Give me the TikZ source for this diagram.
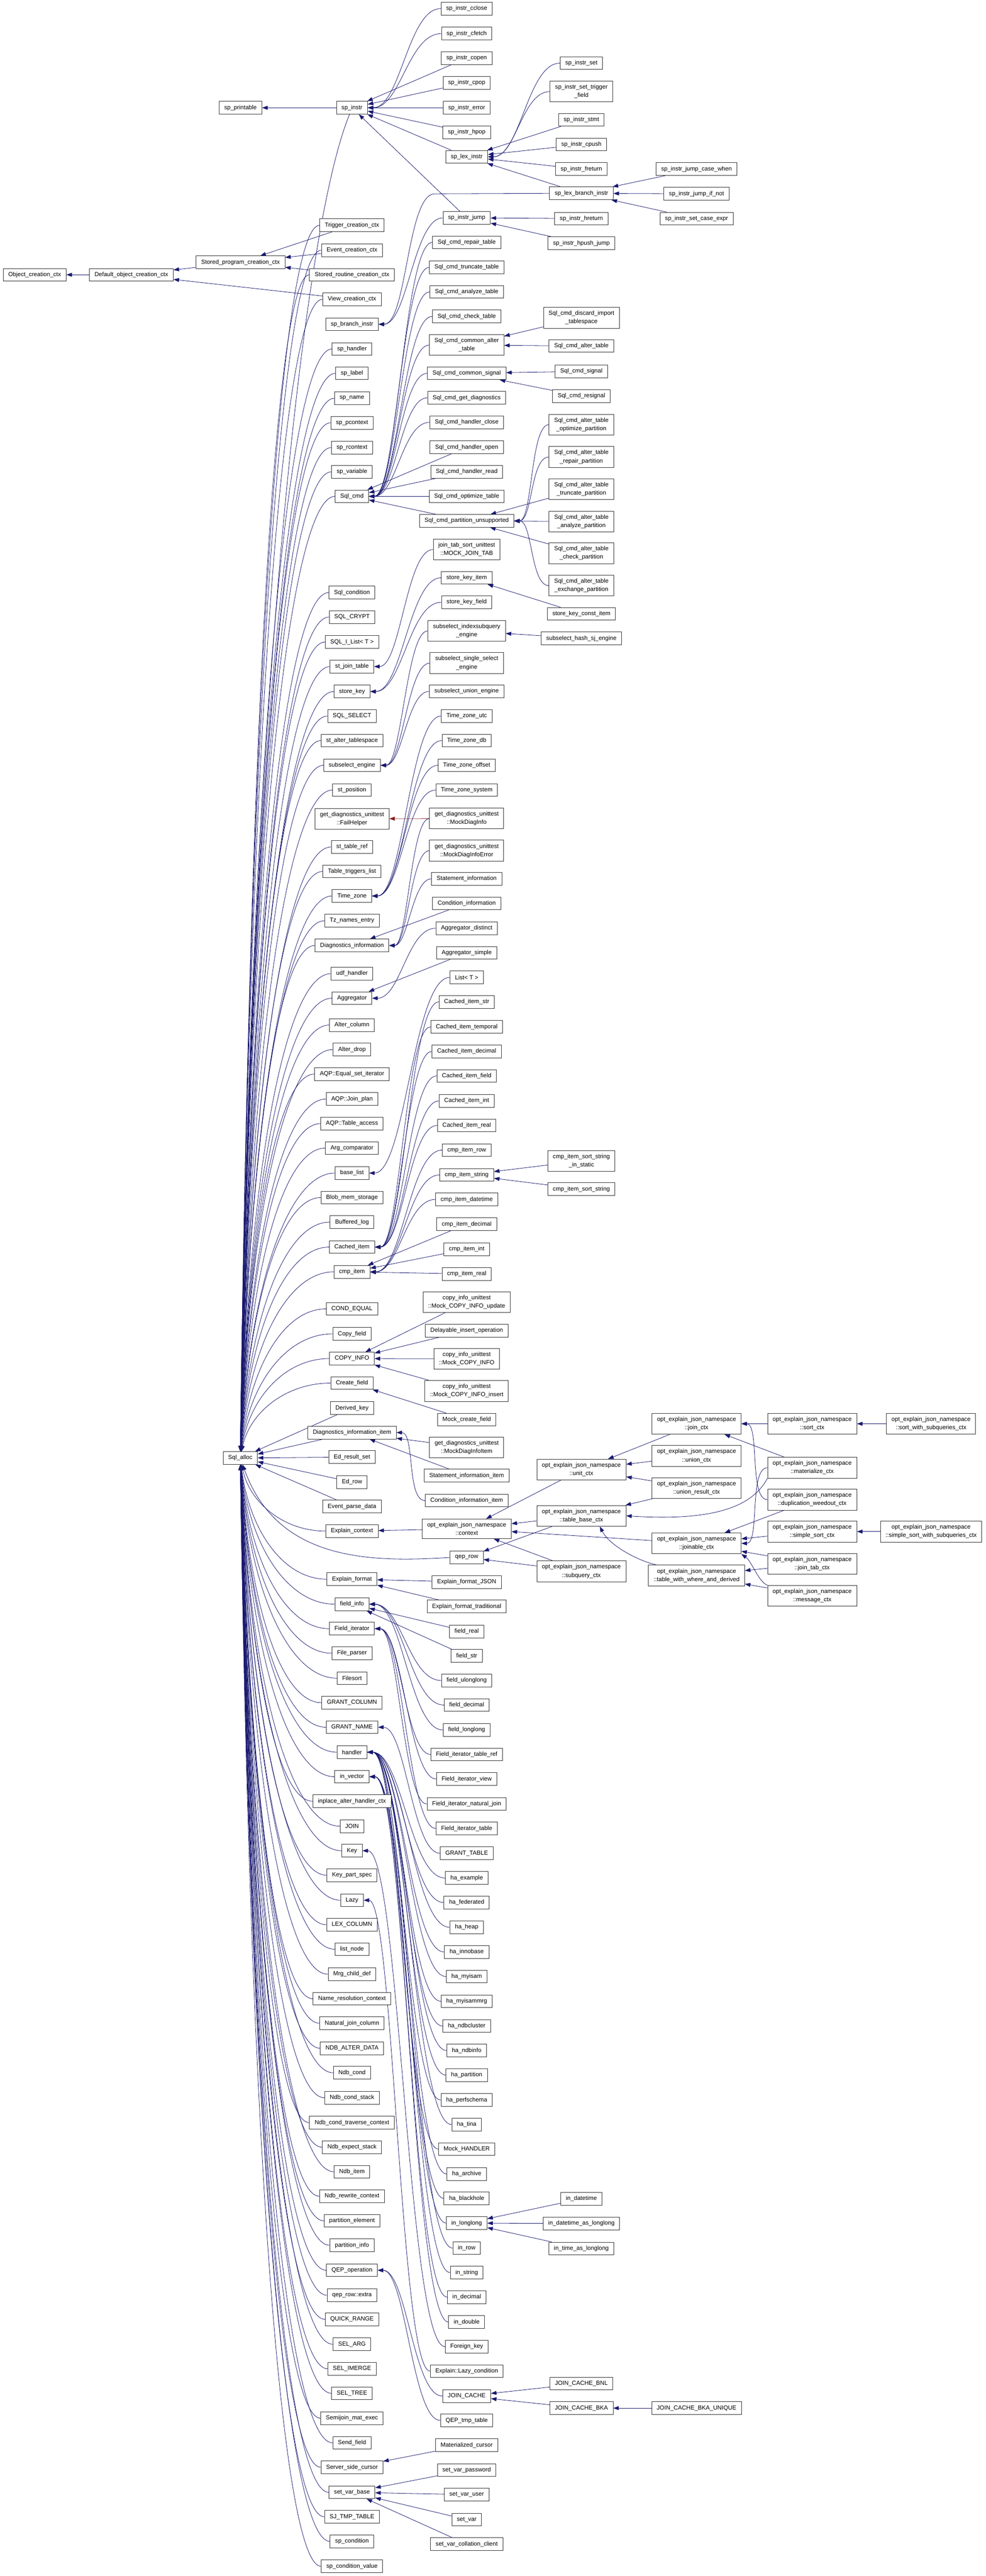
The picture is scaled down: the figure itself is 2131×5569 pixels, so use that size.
\documentclass[tikz,border=0pt]{standalone}
\usepackage{fontspec}
\setmainfont{Liberation Sans}
\usetikzlibrary{arrows.meta,backgrounds}
\definecolor{edgeblue}{RGB}{25,25,112}
\definecolor{privred}{RGB}{139,26,26}
\tikzset{
  box/.style={draw=black!80, line width=1pt, fill=white, align=center,
    font=\fontsize{12.9pt}{18pt}\selectfont, minimum height=27.5pt,
    inner xsep=11pt, inner ysep=7.5pt},
  edge/.style={draw=edgeblue, line width=0.9pt,
    arrows={Triangle[length=12pt,width=8.5pt]-}},
  privedge/.style={edge, draw=privred}
}
% parent #2, child #3
\newcommand\inh[3][edge]{%
  \path (#2.east); \pgfgetlastxy{\pex}{\pey}%
  \path (#3.west); \pgfgetlastxy{\cwx}{\cwy}%
  \pgfmathtruncatemacro\farr{abs((\cwy)-(\pey))>130}%
  \ifnum\farr=1
    \pgfmathsetmacro\kk{max(40,0.45*((\cwx)-(\pex)))}%
    \draw[#1] (#2.east) .. controls +(\kk pt,0pt) and +(-\kk pt,0pt) .. (#3.west);%
  \else
    \draw[#1] (#2) -- (#3);%
  \fi}
% child #1 of Sql_alloc
\newcommand\saedge[1]{%
  \path (sa); \pgfgetlastxy{\sax}{\say}%
  \path (#1.west); \pgfgetlastxy{\nwx}{\nwy}%
  \pgfmathsetmacro\dyy{(\nwy)-(\say)}%
  \pgfmathtruncatemacro\farr{abs(\dyy)>150}%
  \ifnum\farr=1
    \pgfmathsetmacro\cax{\sax+20}%
    \pgfmathsetmacro\cay{\say+0.6*\dyy}%
    \pgfmathsetmacro\cbx{\nwx-0.5*((\nwx)-(\sax))}%
    \draw[edge] (sa) .. controls (\cax pt,\cay pt) and (\cbx pt,\nwy) .. (#1.west);%
  \else
    \draw[edge] (sa) -- (#1);%
  \fi}

\begin{document}
\begin{tikzpicture}[x=1pt,y=-1pt]
\useasboundingbox (0,0) rectangle (2131,5569);

\node[box] (oc) at (75,594) {Object\_creation\_ctx};
\node[box] (doc) at (284,594) {Default\_object\_creation\_ctx};
\node[box] (spp) at (520,233) {sp\_printable};
\node[box] (spc) at (520,567) {Stored\_program\_creation\_ctx};
\node[box] (sa) at (519.5,3152) {Sql\_alloc};

\foreach \nm/\yy/\lbl in {
 spinstr/233/sp\_instr, trig/487/Trigger\_creation\_ctx, event/541/Event\_creation\_ctx,
 sroutine/594/Stored\_routine\_creation\_ctx, view/647/View\_creation\_ctx,
 spbranch/701/sp\_branch\_instr, sphandler/754.5/sp\_handler, splabel/807/sp\_label,
 spname/861/sp\_name, sppctx/914/sp\_pcontext, sprctx/967.5/sp\_rcontext,
 spvar/1020/sp\_variable, sqlcmd/1073/Sql\_cmd, sqlcond/1281/Sql\_condition,
 sqlcrypt/1334/SQL\_CRYPT, sqlilist/1388/SQL\_I\_List< T >, stjoin/1441/st\_join\_table,
 storekey/1495/store\_key, sqlsel/1548/SQL\_SELECT, stalter/1601/st\_alter\_tablespace,
 subeng/1654.5/subselect\_engine, stpos/1708/st\_position,
 failhelper/1770/{get\_diagnostics\_unittest\\::FailHelper},
 sttref/1831/st\_table\_ref, ttlist/1884/Table\_triggers\_list, tz/1937/Time\_zone,
 tznames/1990.5/Tz\_names\_entry, diaginfo/2044/Diagnostics\_information,
 udf/2105/udf\_handler, aggr/2158/Aggregator, altcol/2216/Alter\_column,
 altdrop/2269/Alter\_drop, aqpeq/2322/AQP::Equal\_set\_iterator, aqpjoin/2376/AQP::Join\_plan,
 aqptab/2429/AQP::Table\_access, argcmp/2482/Arg\_comparator, baselist/2536/base\_list,
 blob/2589/Blob\_mem\_storage, buflog/2642/Buffered\_log, cached/2696/Cached\_item,
 cmpitem/2749.6/cmp\_item, condeq/2829.6/COND\_EQUAL, copyfield/2883.6/Copy\_field,
 copyinfo/2937/COPY\_INFO, createfield/2990/Create\_field, derivedkey/3044/Derived\_key,
 diagitem/3097/Diagnostics\_information\_item, edrs/3150/Ed\_result\_set, edrow/3204/Ed\_row,
 eventpd/3257/Event\_parse\_data, explctx/3310/Explain\_context, explfmt/3414/Explain\_format,
 fieldinfo/3468/field\_info, fielditer/3521/Field\_iterator, fileparser/3574/File\_parser,
 filesort/3628/Filesort, grantcol/3681/GRANT\_COLUMN, grantname/3734/GRANT\_NAME,
 handler/3788/handler, invector/3841/in\_vector, inplace/3894/inplace\_alter\_handler\_ctx,
 join/3948/JOIN, key/4001/Key, keypart/4054/Key\_part\_spec, lazy/4108/Lazy,
 lexcol/4161/LEX\_COLUMN, listnode/4214/list\_node, mrg/4268/Mrg\_child\_def,
 nrc/4321/Name\_resolution\_context, njc/4374/Natural\_join\_column,
 ndbalter/4428/NDB\_ALTER\_DATA, ndbcond/4481/Ndb\_cond, ndbcs/4535/Ndb\_cond\_stack,
 ndbctc/4589/Ndb\_cond\_traverse\_context, ndbes/4642/Ndb\_expect\_stack, ndbitem/4695/Ndb\_item,
 ndbrc/4748/Ndb\_rewrite\_context, partel/4801/partition\_element, partinfo/4854/partition\_info,
 qepop/4908/QEP\_operation, qeprowx/4962/qep\_row::extra, qrange/5014/QUICK\_RANGE,
 selarg/5068/SEL\_ARG, selimerge/5121/SEL\_IMERGE, seltree/5174/SEL\_TREE,
 sjmat/5228/Semijoin\_mat\_exec, sendfield/5281/Send\_field, sscursor/5334/Server\_side\_cursor,
 setvarbase/5388/set\_var\_base, sjtmp/5441/SJ\_TMP\_TABLE, spcond/5494/sp\_condition,
 spcondval/5548/sp\_condition\_value}
  {\node[box] (\nm) at (761,\yy) {\lbl};}

\foreach \nm/\yy/\lbl in {
 cclose/18.5/sp\_instr\_cclose, cfetch/72.7/sp\_instr\_cfetch, copen/125.6/sp\_instr\_copen,
 cpop/179/sp\_instr\_cpop, sperror/233/sp\_instr\_error, hpop/286/sp\_instr\_hpop,
 lexinstr/339/sp\_lex\_instr, spjump/471/sp\_instr\_jump, cmdrepair/524/Sql\_cmd\_repair\_table,
 cmdtrunc/578/Sql\_cmd\_truncate\_table, cmdanalyze/631/Sql\_cmd\_analyze\_table,
 cmdcheck/684/Sql\_cmd\_check\_table, cmdalter/746/{Sql\_cmd\_common\_alter\\\_table},
 cmdsignal/807/Sql\_cmd\_common\_signal, cmdgetdiag/860/Sql\_cmd\_get\_diagnostics,
 cmdhclose/913/Sql\_cmd\_handler\_close, cmdhopen/967/Sql\_cmd\_handler\_open,
 cmdhread/1020/Sql\_cmd\_handler\_read, cmdopt/1073/Sql\_cmd\_optimize\_table,
 cmdpart/1126/Sql\_cmd\_partition\_unsupported,
 mockjt/1188/{join\_tab\_sort\_unittest\\::MOCK\_JOIN\_TAB},
 skitem/1249/store\_key\_item, skfield/1302/store\_key\_field,
 subidx/1364/{subselect\_indexsubquery\\\_engine},
 subsingle/1433.5/{subselect\_single\_select\\\_engine},
 subunion/1494.6/subselect\_union\_engine, tzutc/1548/Time\_zone\_utc, tzdb/1601/Time\_zone\_db,
 tzoff/1654.5/Time\_zone\_offset, tzsys/1708/Time\_zone\_system,
 mockdiag/1769.5/{get\_diagnostics\_unittest\\::MockDiagInfo},
 mockdiagerr/1839/{get\_diagnostics\_unittest\\::MockDiagInfoError},
 stmtinfo/1900/Statement\_information, condinfo/1953/Condition\_information,
 aggrdist/2006.7/Aggregator\_distinct, aggrsimple/2060/Aggregator\_simple, listt/2113/List< T >,
 cistr/2166/Cached\_item\_str, citemp/2220/Cached\_item\_temporal, cidec/2273/Cached\_item\_decimal,
 cifield/2326/Cached\_item\_field, ciint/2380/Cached\_item\_int, cireal/2433/Cached\_item\_real,
 cmprow/2486.5/cmp\_item\_row, cmpstr/2540/cmp\_item\_string, cmpdt/2593/cmp\_item\_datetime,
 cmpdec/2646.5/cmp\_item\_decimal, cmpint/2700.5/cmp\_item\_int, cmpreal/2754/cmp\_item\_real,
 mockciupd/2815/{copy\_info\_unittest\\::Mock\_COPY\_INFO\_update},
 delayins/2876.6/Delayable\_insert\_operation,
 mockci/2937.6/{copy\_info\_unittest\\::Mock\_COPY\_INFO},
 mockciins/3007/{copy\_info\_unittest\\::Mock\_COPY\_INFO\_insert},
 mockcf/3069/Mock\_create\_field,
 mockdiagitem/3129/{get\_diagnostics\_unittest\\::MockDiagInfoItem},
 stmtitem/3190/Statement\_information\_item, conditem/3244/Condition\_information\_item,
 jctx/3305/{opt\_explain\_json\_namespace\\::context}, qeprow/3367/qep\_row,
 fmtjson/3420/Explain\_format\_JSON, fmttrad/3473/Explain\_format\_traditional,
 freal/3527/field\_real, fstr/3580/field\_str, fulong/3633/field\_ulonglong,
 fdec/3686/field\_decimal, flong/3740/field\_longlong, fitref/3793/Field\_iterator\_table\_ref,
 fitview/3846/Field\_iterator\_view, fitnat/3900/Field\_iterator\_natural\_join,
 fittab/3953/Field\_iterator\_table, granttab/4006.5/GRANT\_TABLE, haexample/4060/ha\_example,
 hafed/4113/ha\_federated, haheap/4166.5/ha\_heap, hainno/4220/ha\_innobase,
 hamyisam/4273/ha\_myisam, hamrg/4326.5/ha\_myisammrg, handb/4380/ha\_ndbcluster,
 handbinfo/4433/ha\_ndbinfo, hapart/4486/ha\_partition, haperf/4540/ha\_perfschema,
 hatina/4593/ha\_tina, mockh/4646/Mock\_HANDLER, haarch/4700/ha\_archive,
 hablack/4752.6/ha\_blackhole, inll/4806/in\_longlong, inrow/4860/in\_row,
 instring/4913/in\_string, indec/4966/in\_decimal, indbl/5020/in\_double,
 fkey/5073/Foreign\_key, lazycond/5126/Explain::Lazy\_condition, jcache/5180/JOIN\_CACHE,
 qeptmp/5232.6/QEP\_tmp\_table, matcur/5286/Materialized\_cursor,
 svpass/5340/set\_var\_password, svuser/5393/set\_var\_user, setvar/5447/set\_var,
 svcoll/5500/set\_var\_collation\_client}
  {\node[box] (\nm) at (1009,\yy) {\lbl};}

\foreach \nm/\yy/\lbl in {
 iset/136.5/sp\_instr\_set, isettf/198/{sp\_instr\_set\_trigger\\\_field},
 istmt/259/sp\_instr\_stmt, icpush/312.5/sp\_instr\_cpush, ifreturn/365.5/sp\_instr\_freturn,
 lexbranch/418/sp\_lex\_branch\_instr, ihreturn/472.6/sp\_instr\_hreturn,
 ihpush/526/sp\_instr\_hpush\_jump,
 cmddiscard/687/{Sql\_cmd\_discard\_import\\\_tablespace},
 cmdaltertab/748/Sql\_cmd\_alter\_table, cmdsig/803/Sql\_cmd\_signal,
 cmdresig/856.5/Sql\_cmd\_resignal,
 apopt/918/{Sql\_cmd\_alter\_table\\\_optimize\_partition},
 aprep/988/{Sql\_cmd\_alter\_table\\\_repair\_partition},
 aptrunc/1057.5/{Sql\_cmd\_alter\_table\\\_truncate\_partition},
 apanal/1127.7/{Sql\_cmd\_alter\_table\\\_analyze\_partition},
 apcheck/1196/{Sql\_cmd\_alter\_table\\\_check\_partition},
 apexch/1266/{Sql\_cmd\_alter\_table\\\_exchange\_partition},
 skconst/1327/store\_key\_const\_item, subhash/1380/subselect\_hash\_sj\_engine,
 cmpsortst/2509.7/{cmp\_item\_sort\_string\\\_in\_static},
 cmpsort/2570.7/cmp\_item\_sort\_string,
 unitctx/3177/{opt\_explain\_json\_namespace\\::unit\_ctx},
 tbase/3277/{opt\_explain\_json\_namespace\\::table\_base\_ctx},
 subqctx/3397/{opt\_explain\_json\_namespace\\::subquery\_ctx},
 indt/4753.5/in\_datetime, indtll/4807/in\_datetime\_as\_longlong,
 intimell/4861/in\_time\_as\_longlong, jcbnl/5153/JOIN\_CACHE\_BNL, jcbka/5206/JOIN\_CACHE\_BKA}
  {\node[box] (\nm) at (1257,\yy) {\lbl};}

\foreach \nm/\yy/\lbl in {
 jcase/365.5/sp\_instr\_jump\_case\_when, jifnot/419/sp\_instr\_jump\_if\_not,
 setcase/472.6/sp\_instr\_set\_case\_expr,
 joinctx/3078/{opt\_explain\_json\_namespace\\::join\_ctx},
 unionctx/3147.5/{opt\_explain\_json\_namespace\\::union\_ctx},
 unionres/3217/{opt\_explain\_json\_namespace\\::union\_result\_ctx},
 joinable/3336.6/{opt\_explain\_json\_namespace\\::joinable\_ctx},
 twwad/3406/{opt\_explain\_json\_namespace\\::table\_with\_where\_and\_derived},
 jcbkau/5206/JOIN\_CACHE\_BKA\_UNIQUE}
  {\node[box] (\nm) at (1506,\yy) {\lbl};}

\foreach \nm/\yy/\lbl in {
 sortctx/3078/{opt\_explain\_json\_namespace\\::sort\_ctx},
 matctx/3173/{opt\_explain\_json\_namespace\\::materialize\_ctx},
 dwctx/3242/{opt\_explain\_json\_namespace\\::duplication\_weedout\_ctx},
 ssortctx/3311/{opt\_explain\_json\_namespace\\::simple\_sort\_ctx},
 jtabctx/3380.6/{opt\_explain\_json\_namespace\\::join\_tab\_ctx},
 msgctx/3450/{opt\_explain\_json\_namespace\\::message\_ctx}}
  {\node[box] (\nm) at (1756,\yy) {\lbl};}

\node[box] (sortsub) at (2013,3078) {opt\_explain\_json\_namespace\\::sort\_with\_subqueries\_ctx};
\node[box] (ssortsub) at (2013,3311) {opt\_explain\_json\_namespace\\::simple\_sort\_with\_subqueries\_ctx};

\begin{scope}[on background layer]
\fill[white] (0,0) rectangle (2131,5569);

\inh{oc}{doc}
\inh{doc}{spc}
\inh{doc}{view}
\foreach \c in {trig,event,sroutine} {\inh{spc}{\c}}
\inh{spp}{spinstr}
\foreach \c in {cclose,cfetch,copen,cpop,sperror,hpop,lexinstr} {\inh{spinstr}{\c}}
\draw[edge] (spinstr) -- (spjump);
\foreach \c in {iset,isettf,istmt,icpush,ifreturn,lexbranch} {\inh{lexinstr}{\c}}
\foreach \c in {ihreturn,ihpush} {\inh{spjump}{\c}}
\foreach \c in {jcase,jifnot,setcase} {\inh{lexbranch}{\c}}
\coordinate (bend) at (940,419);
\draw[edge] (spbranch.east) .. controls (880,701) and (880,419) .. (bend) -- (lexbranch.west);
\inh{spbranch}{spjump}
\foreach \c in {cmdrepair,cmdtrunc,cmdanalyze,cmdcheck,cmdalter,cmdsignal,cmdgetdiag,
  cmdhclose,cmdhopen,cmdhread,cmdopt,cmdpart} {\inh{sqlcmd}{\c}}
\foreach \c in {cmddiscard,cmdaltertab} {\inh{cmdalter}{\c}}
\foreach \c in {cmdsig,cmdresig} {\inh{cmdsignal}{\c}}
\foreach \c in {apopt,aprep,aptrunc,apanal,apcheck,apexch} {\inh{cmdpart}{\c}}
\inh{stjoin}{mockjt}
\foreach \c in {skitem,skfield} {\inh{storekey}{\c}}
\inh{skitem}{skconst}
\foreach \c in {subidx,subsingle,subunion} {\inh{subeng}{\c}}
\inh{subidx}{subhash}
\foreach \c in {tzutc,tzdb,tzoff,tzsys} {\inh{tz}{\c}}
\draw[privedge] (failhelper) -- (mockdiag);
\foreach \c in {mockdiag,mockdiagerr,stmtinfo,condinfo} {\inh{diaginfo}{\c}}
\foreach \c in {aggrdist,aggrsimple} {\inh{aggr}{\c}}
\inh{baselist}{listt}
\foreach \c in {cistr,citemp,cidec,cifield,ciint,cireal} {\inh{cached}{\c}}
\foreach \c in {cmprow,cmpstr,cmpdt,cmpdec,cmpint,cmpreal} {\inh{cmpitem}{\c}}
\foreach \c in {cmpsortst,cmpsort} {\inh{cmpstr}{\c}}
\foreach \c in {mockciupd,delayins,mockci,mockciins} {\inh{copyinfo}{\c}}
\inh{createfield}{mockcf}
\foreach \c in {mockdiagitem,stmtitem,conditem} {\inh{diagitem}{\c}}
\inh{explctx}{jctx}
\foreach \c in {unitctx,tbase,joinable,subqctx} {\inh{jctx}{\c}}
\foreach \c in {tbase,subqctx} {\inh{qeprow}{\c}}
\foreach \c in {fmtjson,fmttrad} {\inh{explfmt}{\c}}
\foreach \c in {freal,fstr,fulong,fdec,flong} {\inh{fieldinfo}{\c}}
\foreach \c in {fitref,fitview,fitnat,fittab} {\inh{fielditer}{\c}}
\inh{grantname}{granttab}
\foreach \c in {haexample,hafed,haheap,hainno,hamyisam,hamrg,handb,handbinfo,hapart,
  haperf,hatina,mockh,haarch,hablack} {\inh{handler}{\c}}
\foreach \c in {inll,inrow,instring,indec,indbl} {\inh{invector}{\c}}
\foreach \c in {indt,indtll,intimell} {\inh{inll}{\c}}
\inh{key}{fkey}
\inh{lazy}{lazycond}
\foreach \c in {jcache,qeptmp} {\inh{qepop}{\c}}
\foreach \c in {jcbnl,jcbka} {\inh{jcache}{\c}}
\inh{jcbka}{jcbkau}
\inh{sscursor}{matcur}
\foreach \c in {svpass,svuser,setvar,svcoll} {\inh{setvarbase}{\c}}
\foreach \c in {joinctx,unionctx,unionres} {\inh{unitctx}{\c}}
\inh{tbase}{unionres}
\draw[edge] (tbase.east) .. controls (1560,3290) and (1630,3250) .. (matctx.south west);
\draw[edge] (tbase.-30) .. controls (1320,3345) and (1390,3378) .. (twwad.165);
\foreach \c in {sortctx,matctx,dwctx} {\inh{joinctx}{\c}}
\foreach \c in {matctx,dwctx,ssortctx,jtabctx} {\inh{joinable}{\c}}
\draw[edge] (joinable.south east) .. controls (1625,3375) and (1640,3420) .. (msgctx.north west);
\foreach \c in {jtabctx,msgctx} {\inh{twwad}{\c}}
\inh{sortctx}{sortsub}
\inh{ssortctx}{ssortsub}

% everything that hangs on Sql_alloc
\draw[edge] (sa) .. controls (540,1600) and (650,500) .. (spinstr.-110);
\foreach \nd in {trig,event,sroutine,view,sphandler,splabel,spname,sppctx,sprctx,
  spvar,sqlcmd,sqlcond,sqlcrypt,sqlilist,stjoin,storekey,sqlsel,stalter,subeng,stpos,
  sttref,ttlist,tz,tznames,diaginfo,udf,aggr,altcol,altdrop,aqpeq,aqpjoin,aqptab,argcmp,
  baselist,blob,buflog,cached,cmpitem,condeq,copyfield,copyinfo,createfield,derivedkey,
  diagitem,edrs,edrow,eventpd,explctx,explfmt,fieldinfo,fielditer,fileparser,filesort,
  grantcol,grantname,handler,invector,inplace,join,key,keypart,lazy,lexcol,listnode,mrg,
  nrc,njc,ndbalter,ndbcond,ndbcs,ndbctc,ndbes,ndbitem,ndbrc,partel,partinfo,qepop,
  qeprowx,qrange,selarg,selimerge,seltree,sjmat,sendfield,sscursor,setvarbase,sjtmp,
  spcond,spcondval} {\saedge{\nd}}
\draw[edge] (sa) .. controls (600,3375) and (800,3378) .. (qeprow.west);
\end{scope}
\end{tikzpicture}
\end{document}
